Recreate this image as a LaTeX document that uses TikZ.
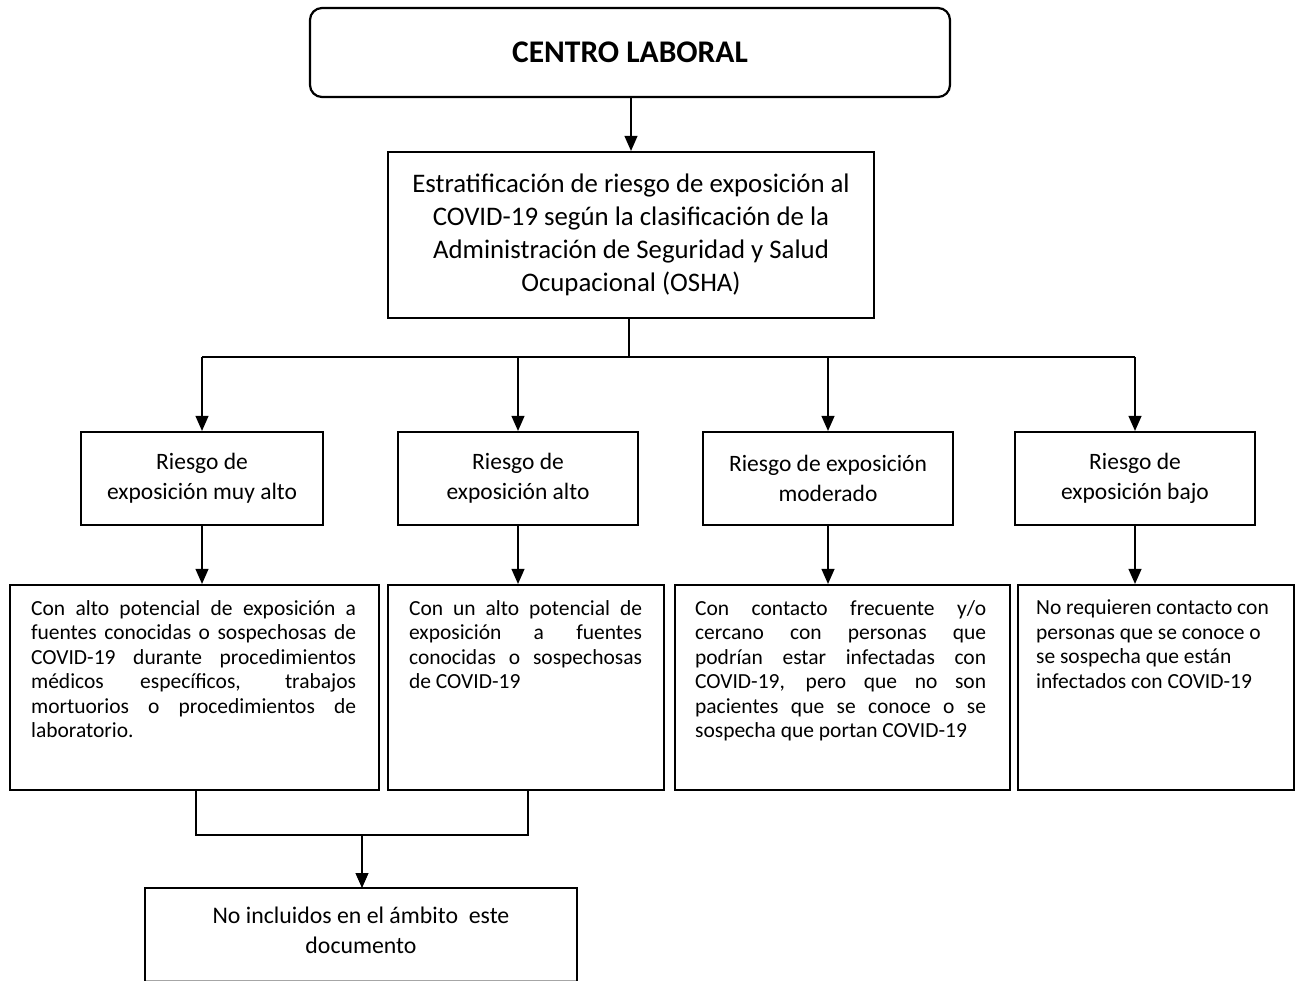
\documentclass[tikz,border=0pt]{standalone}
\usepackage{fontspec}
\setmainfont{Carlito}
\usetikzlibrary{arrows.meta}
\newcommand{\jl}[2]{\hbox to #1{\spaceskip=0.226em plus 1fil\relax #2}}
\newcommand{\lastln}[1]{\hbox{#1}}
\tikzset{
  box/.style={draw=black, line width=2.2pt, inner sep=0pt, fill=white},
  conn/.style={draw=black, line width=1.1pt},
  arr/.style={conn, -{Triangle[width=13pt,length=15pt]}},
  rtext/.style={font={\fontsize{23.5}{30}\selectfont}, align=center},
  ptext/.style={font={\fontsize{21.5}{24.5}\selectfont}, inner sep=0pt, anchor=north west},
}
\begin{document}
\begin{tikzpicture}[x=1pt,y=-1pt]
\useasboundingbox (0,0) rectangle (1301,981);
\fill[white] (0,0) rectangle (1301,981);

% top
\node[box, rounded corners=12pt, minimum width=640pt, minimum height=89pt,
      font={\fontsize{31.5}{36}\selectfont\bfseries}] (top) at (630,52.5) {CENTRO LABORAL};

\node[box, minimum width=486pt, minimum height=166pt, font={\fontsize{26.8}{33}\selectfont}, align=center]
  (strat) at (631,235) {Estratificación de riesgo de exposición al\\COVID-19 según la clasificación de la\\Administración de Seguridad y Salud\\Ocupacional (OSHA)};

\draw[arr] (top.south -| strat.north) -- (strat.north);

% row 3
\node[box, minimum width=242pt, minimum height=93pt, rtext] (r3a) at (202,478.5) {Riesgo de\\exposición muy alto};
\node[box, minimum width=240pt, minimum height=93pt, rtext] (r3b) at (518,478.5) {Riesgo de\\exposición alto};
\node[box, minimum width=250pt, minimum height=93pt, rtext] (r3c) at (828,478.5) {Riesgo de exposición\\moderado};
\node[box, minimum width=240pt, minimum height=93pt, rtext] (r3d) at (1135,478.5) {Riesgo de\\exposición bajo};

\coordinate (bus) at (629,357);
\draw[conn] (strat.south -| bus) -- (bus);
\draw[conn] (bus -| r3a.north) -- (bus -| r3d.north);
\foreach \n in {r3a,r3b,r3c,r3d} \draw[arr] (bus -| \n.north) -- (\n.north);

% row 4 boxes
\node[box, minimum width=369pt, minimum height=205pt] (r4a) at (194.5,687.5) {};
\node[box, minimum width=276pt, minimum height=205pt] (r4b) at (526,687.5) {};
\node[box, minimum width=335pt, minimum height=205pt] (r4c) at (842.5,687.5) {};
\node[box, minimum width=276pt, minimum height=205pt] (r4d) at (1156,687.5) {};

\foreach \a/\b in {r3a/r4a,r3b/r4b,r3c/r4c,r3d/r4d} \draw[arr] (\a.south) -- (\a.south |- \b.north);

\node[ptext] (t4a) at ([xshift=22pt,yshift=-16pt]r4a.north west) {\vbox{%
\jl{325pt}{Con alto potencial de exposición a}
\jl{325pt}{fuentes conocidas o sospechosas de}
\jl{325pt}{COVID-19 durante procedimientos}
\jl{325pt}{médicos específicos, trabajos}
\jl{325pt}{mortuorios o procedimientos de}
\lastln{laboratorio.}}};

\node[ptext] (t4b) at ([xshift=22pt,yshift=-16pt]r4b.north west) {\vbox{%
\jl{233pt}{Con un alto potencial de}
\jl{233pt}{exposición a fuentes}
\jl{233pt}{conocidas o sospechosas}
\lastln{de COVID-19}}};

\node[ptext] (t4c) at ([xshift=21pt,yshift=-16pt]r4c.north west) {\vbox{%
\jl{291pt}{Con contacto frecuente y/o}
\jl{291pt}{cercano con personas que}
\jl{291pt}{podrían estar infectadas con}
\jl{291pt}{COVID-19, pero que no son}
\jl{291pt}{pacientes que se conoce o se}
\lastln{sospecha que portan COVID-19}}};

\node[ptext] (t4d) at ([xshift=19pt,yshift=-16pt]r4d.north west) {\vbox{%
\lastln{No requieren contacto con}
\lastln{personas que se conoce o}
\lastln{se sospecha que están}
\lastln{infectados con COVID-19}}};

% merge
\coordinate (mL) at (196,835);
\coordinate (mR) at (528,835);
\coordinate (mC) at (362,835);
\draw[conn] (r4a.south -| mL) -- (mL) -- (mR) -- (r4b.south -| mR);

% bottom box (cut at the page edge)
\coordinate (bNW) at (145,888);
\coordinate (bNE) at (577,888);
\coordinate (bSW) at (145,981);
\coordinate (bSE) at (577,981);
\draw[draw=gray!70, line width=1pt] (145,980) -- (577,980);
\draw[black, line width=2.2pt] (bSW) -- (bNW) -- (bNE) -- (bSE);
\node[font={\fontsize{23.8}{30}\selectfont}, align=center] (bot) at (361,930) {No incluidos en el ámbito~ este\\documento};
\draw[arr] (mC) -- (mC |- bNW);
\end{tikzpicture}
\end{document}
